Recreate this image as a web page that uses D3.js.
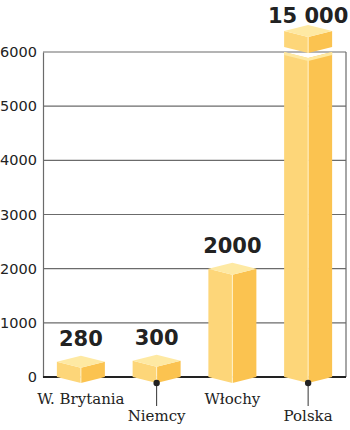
<!DOCTYPE html>
<html>
  <head>
    <meta charset="UTF-8">
    <title>Bar chart</title>
    <script src="https://cdn.jsdelivr.net/npm/d3@7/dist/d3.min.js"></script>
    <style>
      body, html { margin:0; padding:0; background:#fff; }
      .tick text { font-family: "DejaVu Sans", sans-serif; font-size: 14.5px; fill: #222; }
      .value { font-family: "DejaVu Sans", sans-serif; font-weight: bold; font-size: 21px; fill: #222; text-anchor: middle; }
      .cat { font-family: "DejaVu Serif", serif; font-size: 15px; fill: #222; text-anchor: middle; }
    </style>
  </head>
  <body>
  <div id="chart"></div>
<script type="text/javascript">

// data
var categories = ['W. Brytania', 'Niemcy', 'Włochy', 'Polska'];
var values     = [280, 300, 2000, 15000];
var yTicks     = [0, 1000, 2000, 3000, 4000, 5000, 6000];
var dropLabel  = [false, true, false, true];   // label pushed below with a leader

var W = 350, H = 430;
var plotL = 43, plotR = 346, plotT = 52, plotB = 377;
var hw = 24, dep = 6;   // half width of a box, vertical depth of top face
var cTop = '#fee9a3', cLeft = '#fdd679', cRight = '#fbc350';

var svg = d3.select('#chart').append('svg').attr('width', W).attr('height', H);

var x = d3.scalePoint().domain(categories).range([plotL, plotR]).padding(0.5);
var y = d3.scaleLinear().domain([0, 6000]).range([plotB, plotT]);
var yMax = y.domain()[1];

// grid lines
svg.append('g').selectAll('line.grid')
  .data(yTicks.filter(function(d){ return d > 0; }))
  .enter().append('line')
  .attr('x1', plotL).attr('x2', plotR)
  .attr('y1', function(d){ return y(d); }).attr('y2', function(d){ return y(d); })
  .attr('stroke', '#6b6b6b').attr('stroke-width', 1.2);

// right frame
svg.append('line').attr('x1', plotR).attr('x2', plotR).attr('y1', y(yMax)).attr('y2', y(0))
  .attr('stroke', '#6b6b6b').attr('stroke-width', 1.2);

// y axis
var yAxis = d3.axisLeft(y).tickValues(yTicks).tickSize(0).tickPadding(6).tickFormat(d3.format('d'));
var gy = svg.append('g').attr('transform', 'translate(' + plotL + ',0)').call(yAxis);
gy.select('.domain').attr('stroke', '#6b6b6b').attr('stroke-width', 1.2);

// zero line
svg.append('line').attr('x1', plotL).attr('x2', plotR).attr('y1', y(0)).attr('y2', y(0))
  .attr('stroke', '#222').attr('stroke-width', 2.2);

function pts(a) { return a.map(function(p){ return p.join(','); }).join(' '); }

function box(g, cx, yT, yB, withTop) {
  g.append('polygon').attr('fill', cLeft)
    .attr('points', pts([[cx-hw, yT], [cx, yT+dep], [cx, yB+dep], [cx-hw, yB]]));
  g.append('polygon').attr('fill', cRight)
    .attr('points', pts([[cx, yT+dep], [cx+hw, yT], [cx+hw, yB], [cx, yB+dep]]));
  g.append('line').attr('x1', cx).attr('x2', cx).attr('y1', yT+dep).attr('y2', yB+dep)
    .attr('stroke', '#fff3cc').attr('stroke-width', 1);
  if (withTop) {
    g.append('polygon').attr('fill', cTop)
      .attr('points', pts([[cx-hw, yT], [cx, yT-dep], [cx+hw, yT], [cx, yT+dep]]));
  }
}

var bars = svg.append('g');
var labelY = [];
categories.forEach(function(c, i) {
  var cx = x(c), v = values[i];
  var g = bars.append('g');
  if (v <= yMax) {
    box(g, cx, y(v), y(0), true);
    labelY.push(y(v) - 16);
  } else {
    // broken bar: lower chunk up to the top of the scale, cap above it
    var yb = y(yMax);
    box(g, cx, yb, y(0), false);
    g.append('polygon').attr('fill', cTop)
      .attr('points', pts([[cx-hw, yb], [cx, yb+dep], [cx+hw, yb], [cx+hw, yb+3], [cx, yb+dep+3], [cx-hw, yb+3]]));
    var capB = yb - 5, capT = capB - 16;
    box(g, cx, capT, capB, true);
    labelY.push(capT - 8);
  }
});

// value labels
function fmt(v) { return v >= 10000 ? d3.format(',')(v).replace(/,/g, ' ') : String(v); }
svg.append('g').selectAll('text.value')
  .data(values).enter().append('text')
  .attr('class', 'value')
  .attr('x', function(d, i){ return x(categories[i]); })
  .attr('y', function(d, i){ return labelY[i]; })
  .text(fmt);

// category labels
var cat = svg.append('g');
categories.forEach(function(c, i) {
  var cx = x(c);
  if (dropLabel[i]) {
    cat.append('line').attr('x1', cx).attr('x2', cx).attr('y1', y(0)+dep).attr('y2', y(0)+29)
      .attr('stroke', '#333').attr('stroke-width', 1);
    cat.append('circle').attr('cx', cx).attr('cy', y(0)+dep).attr('r', 3.2).attr('fill', '#222');
    cat.append('text').attr('class', 'cat').attr('x', cx).attr('y', 421).text(c);
  } else {
    cat.append('text').attr('class', 'cat').attr('x', cx).attr('y', 404).text(c);
  }
});

</script>
  </body>
</html>
